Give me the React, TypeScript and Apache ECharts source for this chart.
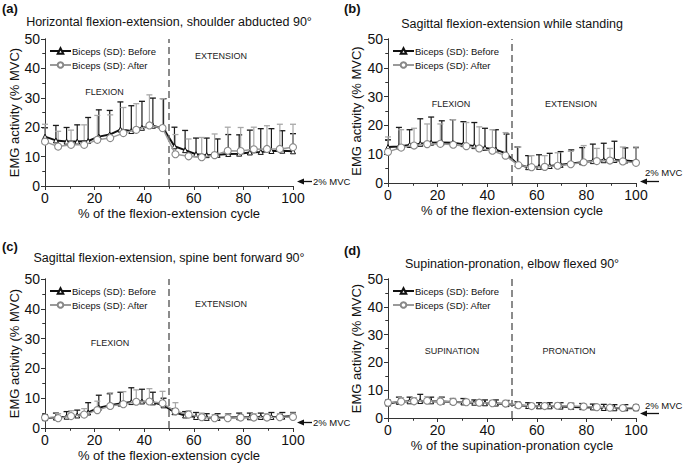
import React, { useEffect, useRef } from "react";
import * as echarts from "echarts";

// ---------- data ----------
const xBefore = [0, 4.4, 8.7, 13, 17.4, 21.7, 26.1, 30.4, 34.8, 39.1, 43.5, 47.8, 52.2, 56.5, 60.9, 65.2, 69.6, 73.9, 78.3, 82.6, 87, 91.3, 95.7, 100];
const xAfter = [0, 5.3, 10.5, 15.8, 21.1, 26.3, 31.6, 36.8, 42.1, 47.4, 52.6, 57.9, 63.2, 68.4, 73.7, 78.9, 84.2, 89.5, 94.7, 100];

const beforeA = [16.8, 15.5, 15.1, 15.1, 15.3, 16.8, 17.5, 19.2, 18.7, 19.8, 20.5, 19.5, 13.5, 12.2, 10.8, 10.5, 10.6, 10.9, 11.0, 11.4, 11.6, 11.9, 12.0, 11.8];
const sdBeforeA = [3.0, 5.1, 4.8, 5.7, 8.0, 9.1, 8.2, 9.4, 8.6, 9.0, 9.4, 10.2, 6.5, 6.7, 5.5, 5.8, 5.4, 6.6, 6.4, 7.6, 7.9, 7.6, 6.8, 6.0];
const afterA = [15.1, 13.4, 14.0, 14.0, 15.7, 16.3, 18.0, 19.1, 20.6, 19.7, 10.8, 10.1, 9.8, 10.5, 12.0, 11.9, 12.5, 12.6, 12.6, 13.2];
const sdAfterA = [5.9, 5.2, 5.0, 6.8, 8.3, 7.9, 8.7, 8.9, 10.4, 10.0, 6.7, 5.9, 6.7, 7.2, 8.0, 8.0, 7.5, 7.9, 8.4, 7.8];

const beforeB = [12.5, 12.7, 13.2, 13.6, 14.0, 14.1, 14.0, 13.5, 12.8, 12.2, 11.6, 10.2, 6.5, 5.5, 5.6, 5.9, 6.3, 6.8, 7.2, 7.6, 7.9, 8.0, 7.8, 7.5];
const sdBeforeB = [2.5, 6.6, 5.3, 8.7, 8.9, 7.5, 8.0, 7.8, 8.2, 6.8, 6.9, 6.8, 6.0, 4.0, 4.2, 4.4, 4.6, 4.7, 5.1, 5.9, 5.9, 6.5, 4.4, 4.8];
const afterB = [10.8, 12.3, 13.0, 13.5, 13.6, 13.3, 12.8, 12.0, 11.2, 9.5, 6.2, 5.5, 5.6, 6.0, 6.5, 7.2, 7.6, 7.8, 7.5, 7.0];
const sdAfterB = [5.2, 6.2, 6.0, 7.0, 6.9, 8.7, 8.2, 7.5, 7.3, 8.0, 6.3, 4.0, 3.9, 4.5, 4.5, 5.8, 4.4, 4.2, 5.0, 5.5];

const beforeC = [3.3, 3.5, 3.8, 4.2, 5.2, 6.8, 7.6, 8.2, 8.7, 8.9, 8.6, 7.6, 5.3, 4.2, 3.7, 3.4, 3.4, 3.5, 3.6, 3.6, 3.7, 3.7, 3.8, 4.0];
const sdBeforeC = [1.2, 1.5, 1.7, 1.8, 3.3, 4.2, 3.9, 3.8, 4.8, 4.1, 3.4, 2.4, 1.2, 1.3, 1.5, 1.4, 1.4, 1.3, 1.4, 1.4, 1.3, 1.5, 1.4, 1.2];
const afterC = [3.5, 3.3, 4.0, 4.5, 6.0, 7.4, 8.0, 8.8, 8.9, 8.3, 5.6, 4.5, 3.6, 3.3, 3.3, 3.5, 3.5, 3.5, 3.6, 3.7];
const sdAfterC = [0.7, 1.5, 1.8, 2.0, 3.0, 4.4, 4.2, 4.0, 4.3, 4.0, 2.9, 1.3, 1.4, 1.2, 1.4, 1.0, 1.3, 1.3, 1.2, 1.3];

const beforeD = [5.2, 5.8, 6.0, 6.1, 6.0, 5.9, 5.8, 5.6, 5.5, 5.3, 5.2, 5.0, 4.6, 4.3, 4.2, 4.2, 4.1, 4.0, 3.9, 3.8, 3.6, 3.5, 3.5, 3.5];
const sdBeforeD = [1.3, 1.7, 1.5, 2.4, 1.5, 1.6, 1.2, 1.4, 1.0, 1.2, 1.3, 1.3, 1.2, 1.2, 1.3, 1.3, 1.4, 1.3, 1.3, 1.2, 1.3, 1.3, 1.3, 1.3];
const afterD = [5.5, 5.9, 6.0, 6.2, 5.9, 5.8, 5.7, 5.5, 5.3, 5.2, 4.6, 4.3, 4.3, 4.4, 4.3, 4.1, 3.9, 3.7, 3.6, 3.8];
const sdAfterD = [1.0, 1.4, 1.3, 1.5, 1.3, 1.2, 1.0, 1.1, 1.0, 1.0, 0.9, 0.9, 1.0, 1.0, 0.9, 0.9, 0.8, 0.9, 0.9, 0.9];

const panelLetters = ["(a)", "(b)", "(c)", "(d)"];
const titles = [
  "Horizontal flexion-extension, shoulder abducted 90°",
  "Sagittal flexion-extension while standing",
  "Sagittal flexion-extension, spine bent forward 90°",
  "Supination-pronation, elbow flexed 90°",
];
const xNames = [
  "% of the flexion-extension cycle",
  "% of the flexion-extension cycle",
  "% of the flexion-extension cycle",
  "% of the supination-pronation cycle",
];
const yName = "EMG activity (% MVC)";
const legendNames = ["Biceps (SD): Before", "Biceps (SD): After"];
const phaseLabels: [string, number, number][][] = [
  [["FLEXION", 24, 32], ["EXTENSION", 71, 44.2]],
  [["FLEXION", 25.4, 27.3], ["EXTENSION", 73.8, 27.3]],
  [["FLEXION", 26.2, 28.4], ["EXTENSION", 71, 41.5]],
  [["SUPINATION", 25.8, 24.2], ["PRONATION", 73, 24.2]],
];
const mvcLabel = "2% MVC";
const phaseBoundary = 50;

const panels = [
  { b: beforeA, sb: sdBeforeA, a: afterA, sa: sdAfterA },
  { b: beforeB, sb: sdBeforeB, a: afterB, sa: sdAfterB },
  { b: beforeC, sb: sdBeforeC, a: afterC, sa: sdAfterC },
  { b: beforeD, sb: sdBeforeD, a: afterD, sa: sdAfterD },
];

// ---------- layout ----------
const grids = [
  { left: 45, top: 39, width: 248, height: 147 },
  { left: 388, top: 39, width: 248, height: 144 },
  { left: 45, top: 279, width: 248, height: 149 },
  { left: 388, top: 279, width: 248, height: 139 },
];
const titleY = [22, 24, 258, 264];
const letterPos = [
  [2, 8],
  [344, 8],
  [2, 246],
  [344, 250],
];
const yNameGap = [24, 25, 24, 25];
// arrow: [tailX, headX, arrowY, textX, textY]
const mvcPos = [
  [312, 297, 181.5, 313, 181.5],
  [659, 640, 181.5, 645, 172.5],
  [312, 297, 422.5, 313, 422.5],
  [659, 640, 413.5, 645, 405.5],
];

const FONT = "'Liberation Sans', Arial, sans-serif";
const BLACK = "#111";
const GRAY = "#9a9a9a";

function errorSeries(name: string, gi: number, xs: number[], m: number[], sd: number[], color: string, z: number) {
  return {
    type: "custom",
    name,
    xAxisIndex: gi * 2,
    yAxisIndex: gi * 2,
    z,
    silent: true,
    encode: { x: 0, y: 1 },
    data: xs.map((x, i) => [x, m[i], sd[i]]),
    renderItem: (params: any, api: any) => {
      const x = api.value(0);
      const mean = api.value(1);
      const s = api.value(2);
      const p0 = api.coord([x, mean]);
      const p1 = api.coord([x, mean + s]);
      const w = 3;
      return {
        type: "group",
        children: [
          { type: "line", shape: { x1: p0[0], y1: p0[1], x2: p1[0], y2: p1[1] }, style: { stroke: color, lineWidth: 1.2 } },
          { type: "line", shape: { x1: p1[0] - w, y1: p1[1], x2: p1[0] + w, y2: p1[1] }, style: { stroke: color, lineWidth: 1.3 } },
        ],
      };
    },
  };
}

export default function App() {
  const ref = useRef<HTMLDivElement>(null);
  useEffect(() => {
    if (!ref.current) return;
    const chart = echarts.init(ref.current, undefined, { renderer: "svg" });

    const xAxes: any[] = [];
    const yAxes: any[] = [];
    const series: any[] = [];
    const legends: any[] = [];
    const graphics: any[] = [];

    grids.forEach((g, gi) => {
      const axisLine = { show: true, lineStyle: { color: "#333", width: 1 } };
      xAxes.push({
        type: "value", gridIndex: gi, min: 0, max: 100, interval: 20, position: "bottom",
        axisLine, axisTick: { show: true, inside: false, length: 4, lineStyle: { color: "#333" } },
        minorTick: { show: true, splitNumber: 2, length: 2.5, lineStyle: { color: "#333" } },
        splitLine: { show: false },
        axisLabel: { fontSize: 14, color: BLACK, margin: 5, fontFamily: FONT },
        name: xNames[gi], nameLocation: "middle", nameGap: 21,
        nameTextStyle: { fontSize: 13, color: BLACK, fontFamily: FONT },
      });
      xAxes.push({
        type: "value", gridIndex: gi, min: 0, max: 100, interval: 20, position: "top",
        axisLine, axisTick: { show: true, inside: true, length: 4, lineStyle: { color: "#333" } },
        minorTick: { show: true, splitNumber: 2, length: 2.5, lineStyle: { color: "#333" } },
        splitLine: { show: false }, axisLabel: { show: false },
      });
      yAxes.push({
        type: "value", gridIndex: gi, min: 0, max: 50, interval: 10, position: "left",
        axisLine, axisTick: { show: true, inside: false, length: 4, lineStyle: { color: "#333" } },
        minorTick: { show: true, splitNumber: 2, length: 2.5, lineStyle: { color: "#333" } },
        splitLine: { show: false },
        axisLabel: { fontSize: 14, color: BLACK, margin: 5, fontFamily: FONT },
        name: yName, nameLocation: "middle", nameGap: yNameGap[gi],
        nameTextStyle: { fontSize: 13, color: BLACK, fontFamily: FONT },
      });
      yAxes.push({
        type: "value", gridIndex: gi, min: 0, max: 50, interval: 10, position: "right",
        axisLine, axisTick: { show: true, inside: true, length: 4, lineStyle: { color: "#333" } },
        minorTick: { show: true, splitNumber: 2, length: 2.5, lineStyle: { color: "#333" } },
        splitLine: { show: false }, axisLabel: { show: false },
      });

      const p = panels[gi];
      series.push(errorSeries("errB" + gi, gi, xBefore, p.b, p.sb, "#1a1a1a", 2));
      series.push(errorSeries("errA" + gi, gi, xAfter, p.a, p.sa, "#a8a8a8", 2));
      series.push({
        type: "line", name: legendNames[0], xAxisIndex: gi * 2, yAxisIndex: gi * 2, z: 4,
        data: xBefore.map((x, i) => [x, p.b[i]]),
        symbol: "triangle", symbolSize: 5, showSymbol: true, clip: false,
        lineStyle: { color: BLACK, width: 2 },
        itemStyle: { color: "#fff", borderColor: BLACK, borderWidth: 1 },
        markLine: {
          silent: true, symbol: "none", label: { show: false },
          lineStyle: { color: "#666", type: [7, 4], width: 1.5 },
          data: [{ xAxis: phaseBoundary }],
        },
      });
      series.push({
        type: "line", name: legendNames[1], xAxisIndex: gi * 2, yAxisIndex: gi * 2, z: 5,
        data: xAfter.map((x, i) => [x, p.a[i]]),
        symbol: "circle", symbolSize: 7, showSymbol: true, clip: false,
        lineStyle: { color: GRAY, width: 1.5 },
        itemStyle: { color: "#fff", borderColor: "#888", borderWidth: 1.1 },
      });

      legends.push({
        data: legendNames, orient: "vertical", left: g.left + 4, top: g.top + 7,
        itemWidth: 21, itemHeight: 7, itemGap: 4, padding: 0, selectedMode: false,
        textStyle: { fontSize: 9.5, color: BLACK, fontFamily: FONT, padding: [0, 0, 0, -4] },
      });

      // texts
      graphics.push({
        type: "text", x: letterPos[gi][0], y: letterPos[gi][1],
        style: { text: panelLetters[gi], font: `bold 13px ${FONT}`, fill: BLACK, textVerticalAlign: "middle" },
      });
      graphics.push({
        type: "text", x: g.left + g.width / 2, y: titleY[gi],
        style: { text: titles[gi], font: `12.5px ${FONT}`, fill: BLACK, textAlign: "center", textVerticalAlign: "middle" },
      });
      phaseLabels[gi].forEach(([t, xv, yv]) => {
        graphics.push({
          type: "text",
          x: g.left + (xv / 100) * g.width,
          y: g.top + g.height * (1 - yv / 50),
          style: { text: t, font: `9px ${FONT}`, fill: "#222", textAlign: "center", textVerticalAlign: "middle" },
        });
      });
      const [tx, hx, ay, lx, ly] = mvcPos[gi];
      graphics.push({
        type: "line", shape: { x1: tx, y1: ay, x2: hx + 5, y2: ay }, style: { stroke: BLACK, lineWidth: 1.3 },
      });
      graphics.push({
        type: "polygon", shape: { points: [[hx, ay], [hx + 7, ay - 3], [hx + 7, ay + 3]] }, style: { fill: BLACK },
      });
      graphics.push({
        type: "text", x: lx, y: ly,
        style: { text: mvcLabel, font: `9.5px ${FONT}`, fill: BLACK, textVerticalAlign: "middle" },
      });
    });

    chart.setOption({
      animation: false,
      backgroundColor: "#fff",
      textStyle: { fontFamily: FONT },
      grid: grids.map((g) => ({ ...g })),
      xAxis: xAxes,
      yAxis: yAxes,
      legend: legends,
      series,
      graphic: graphics,
    });
    return () => chart.dispose();
  }, []);
  return <div ref={ref} style={{ position: "fixed", left: 0, top: 0, width: 685, height: 465 }} />;
}
